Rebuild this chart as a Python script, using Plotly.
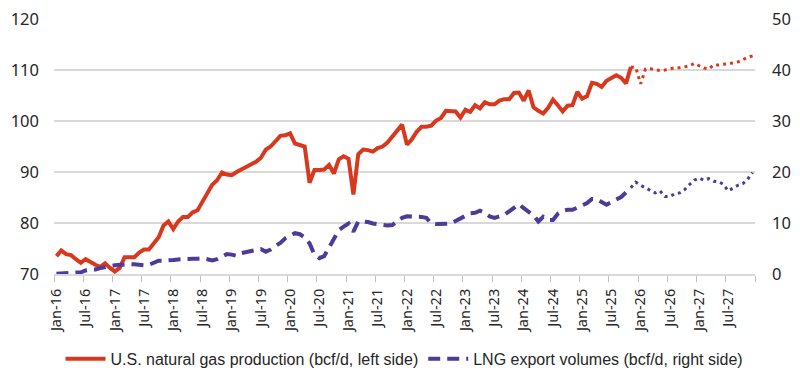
import plotly.graph_objects as go

# Monthly index 0 = Jan-16 ... 143 = Dec-27
prod_actual = [
    73.5, 74.6, 73.9, 73.7, 72.9, 72.2, 72.9, 72.3, 71.8, 71.4, 72.1, 71.2,
    70.5, 71.2, 73.3, 73.3, 73.3, 74.2, 74.8, 74.8, 76.0, 77.2, 79.5, 80.3,
    78.8, 80.3, 81.2, 81.2, 82.1, 82.5, 84.2, 85.9, 87.5, 88.4, 89.9, 89.5,
    89.4, 90.0, 90.5, 91.0, 91.6, 92.0, 92.8, 94.4, 95.0, 96.0, 97.1, 97.2,
    97.6, 95.6, 95.3, 95.0, 87.9, 90.4, 90.4, 90.5, 91.4, 89.7, 92.5, 93.1,
    92.6, 85.6, 93.5, 94.4, 94.3, 94.0, 94.7, 95.0, 95.8, 97.0, 98.4, 99.3,
    95.4, 96.4, 97.9, 98.9, 98.9, 99.1, 100.1, 100.6, 102.0, 102.0, 101.9, 100.7,
    102.2, 101.8, 103.1, 102.5, 103.7, 103.3, 103.3, 104.0, 104.3, 104.3, 105.5, 105.6,
    104.0, 106.0, 102.7, 102.0, 101.5, 102.6, 104.2, 103.1, 101.9, 103.0, 103.1, 105.7,
    104.4, 104.9, 107.5, 107.3, 106.7, 107.9, 108.5, 109.0, 108.5, 107.4, 110.6,
]
# forecast starts at the last actual month (Nov-25)
prod_forecast = [
    110.6, 110.5, 107.3, 110.2, 110.25, 110.1, 109.9, 110.0, 110.2, 110.45, 110.45, 110.6,
    110.8, 111.3, 110.8, 110.4, 110.2, 111.0, 111.0, 111.1, 111.3, 111.4, 111.6, 112.1,
    112.5, 112.8,
]

lng_actual = [
    0.05, 0.15, 0.25, 0.3, 0.3, 0.33, 0.7, 0.85, 0.9, 1.15, 1.4, 1.55,
    1.7, 1.8, 1.95, 1.95, 1.9, 1.7, 1.7, 1.8, 2.2, 2.6, 2.6, 2.6,
    2.75, 2.85, 2.95, 3.0, 3.0, 3.0, 3.05, 2.9, 2.65, 2.9, 3.4, 3.9,
    3.8, 3.55, 4.1, 4.3, 4.6, 4.8, 4.9, 4.35, 4.8, 5.5, 6.1, 7.0,
    7.6, 8.0, 7.8, 7.2, 6.0, 3.8, 3.1, 3.5, 5.2, 7.0, 8.6, 9.3,
    9.9, 8.3, 10.3, 10.3, 10.2, 9.9, 9.7, 9.6, 9.5, 9.6, 10.3, 11.0,
    11.3, 11.3, 11.2, 11.2, 11.0, 9.9, 9.8, 9.8, 9.8, 9.9, 10.4, 10.9,
    11.5, 11.9, 12.0, 12.4, 12.0, 11.3, 11.0, 11.2, 11.6, 12.3, 13.0, 13.7,
    12.9, 12.2, 11.5, 10.3, 11.2, 10.6, 10.6, 11.8, 12.4, 12.6, 12.6, 13.0,
    13.4, 13.9, 14.7, 14.7, 14.1, 13.6, 14.1, 14.5, 15.1, 16.0, 16.9,
]
lng_forecast = [
    16.9, 18.0, 17.4, 16.9, 16.4, 15.9, 16.3, 15.2, 15.2, 15.7, 15.9, 16.5,
    17.5, 18.4, 18.8, 18.4, 18.7, 18.2, 18.1, 17.6, 16.3, 16.9, 17.4, 17.7,
    18.6, 19.9,
]

tick_labels = []
for yr in range(16, 28):
    tick_labels += [f"Jan-{yr}", f"Jul-{yr}"]
tick_positions = list(range(0, 144, 6))
left_ticks = [70, 80, 90, 100, 110, 120]
right_ticks = [0, 10, 20, 30, 40, 50]

x_actual = list(range(len(prod_actual)))
x_fore = list(range(len(prod_actual) - 1, len(prod_actual) - 1 + len(prod_forecast)))

RED = "#D8391E"
PURPLE = "#4E3A97"
GRID = "#D9D9D9"
FONT = "Noto Sans"
LEGFONT = "Liberation Sans"

fig = go.Figure()
fig.add_trace(go.Scatter(
    x=x_actual, y=prod_actual, mode="lines",
    name="U.S. natural gas production (bcf/d, left side)",
    line=dict(color=RED, width=4), yaxis="y"))
fig.add_trace(go.Scatter(
    x=x_fore, y=prod_forecast, mode="lines", showlegend=False,
    line=dict(color=RED, width=3, dash="3px,4px"), yaxis="y"))
fig.add_trace(go.Scatter(
    x=list(range(len(lng_actual))), y=lng_actual, mode="lines",
    name="LNG export volumes (bcf/d, right side)",
    line=dict(color=PURPLE, width=4, dash="12px,7px"), yaxis="y2"))
fig.add_trace(go.Scatter(
    x=x_fore, y=lng_forecast, mode="lines", showlegend=False,
    line=dict(color=PURPLE, width=3, dash="3px,4px"), yaxis="y2"))

# page body has an 8px default margin, so the figure is sized/offset to compensate
fig.update_layout(
    width=792, height=375,
    margin=dict(l=46, r=45, t=11, b=109, autoexpand=False),
    paper_bgcolor="white", plot_bgcolor="white",
    font=dict(family=FONT, color="#262626"),
    showlegend=True,
    legend=dict(orientation="h", x=0.5, xanchor="center", y=-0.333, yanchor="middle",
                font=dict(family=LEGFONT, size=16, color="#262626"),
                itemwidth=40, tracegroupgap=0),
    xaxis=dict(
        automargin=False,
        range=[-0.5, 143.5], tickmode="array", tickvals=tick_positions, ticktext=tick_labels,
        tickangle=-90, ticks="", ticklabelstandoff=7,
        tickfont=dict(family=FONT, size=14.5, color="#262626"),
        showgrid=False, zeroline=False,
        showline=True, linecolor=GRID, linewidth=2,
        minor=dict(tickmode="linear", tick0=-0.5, dtick=6, ticks="outside",
                   ticklen=6, tickcolor="#BFBFBF", tickwidth=1, showgrid=False),
    ),
    yaxis=dict(
        automargin=False, ticklabeloverflow="allow",
        range=[70, 120.02], tickmode="array", tickvals=left_ticks,
        showgrid=True, gridcolor=GRID, gridwidth=2, zeroline=False,
        ticks="", ticklabelstandoff=14,
        tickfont=dict(family=FONT, size=16.5, color="#262626"),
    ),
    yaxis2=dict(
        automargin=False, ticklabeloverflow="allow",
        range=[0, 50.01], tickmode="array", tickvals=right_ticks, overlaying="y", side="right",
        showgrid=False, zeroline=False, ticks="", ticklabelstandoff=16,
        tickfont=dict(family=FONT, size=16.5, color="#262626"),
    ),
)

fig.write_html("out.html")
